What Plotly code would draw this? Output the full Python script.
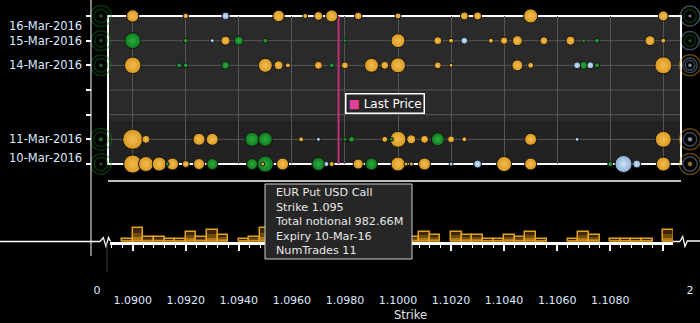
import plotly.graph_objects as go

W, H = 700, 323

# ---------------- data ----------------
EXPIRY_TICKS = ["2016-03-10", "2016-03-11", "2016-03-12", "2016-03-13",
                "2016-03-14", "2016-03-15", "2016-03-16"]
EXPIRY_LABELS = ["10-Mar-2016", "11-Mar-2016", "", "", "14-Mar-2016",
                 "15-Mar-2016", "16-Mar-2016"]

# (expiry, strike, total notional $M)
CALL_BUBBLES = [  # EUR Call USD Put (orange)
    ("2016-03-16", 1.0900, 580), ("2016-03-16", 1.0920, 116), ("2016-03-16", 1.0955, 508),
    ("2016-03-16", 1.0965, 96), ("2016-03-16", 1.0970, 290), ("2016-03-16", 1.0975, 553),
    ("2016-03-16", 1.0985, 216), ("2016-03-16", 1.1000, 138), ("2016-03-16", 1.1025, 246),
    ("2016-03-16", 1.1030, 246), ("2016-03-16", 1.1050, 752), ("2016-03-16", 1.1100, 384),
    ("2016-03-15", 1.0935, 311), ("2016-03-15", 1.1000, 752), ("2016-03-15", 1.1015, 246),
    ("2016-03-15", 1.1020, 96), ("2016-03-15", 1.1035, 96), ("2016-03-15", 1.1040, 216),
    ("2016-03-15", 1.1045, 384), ("2016-03-15", 1.1055, 246), ("2016-03-15", 1.1065, 311),
    ("2016-03-15", 1.1095, 384), ("2016-03-15", 1.1100, 96),
    ("2016-03-14", 1.0900, 1045), ("2016-03-14", 1.0950, 752), ("2016-03-14", 1.0955, 311),
    ("2016-03-14", 1.09585, 96), ("2016-03-14", 1.0970, 246), ("2016-03-14", 1.0980, 188),
    ("2016-03-14", 1.0990, 752), ("2016-03-14", 1.0995, 246), ("2016-03-14", 1.1000, 864),
    ("2016-03-14", 1.1015, 188), ("2016-03-14", 1.1020, 61), ("2016-03-14", 1.1045, 464),
    ("2016-03-14", 1.1050, 138), ("2016-03-14", 1.1100, 1109),
    ("2016-03-11", 1.0900, 1535), ("2016-03-11", 1.0905, 246), ("2016-03-11", 1.0925, 553),
    ("2016-03-11", 1.0930, 553), ("2016-03-11", 1.09635, 96), ("2016-03-11", 1.0995, 138),
    ("2016-03-11", 1.1000, 983), ("2016-03-11", 1.1005, 311), ("2016-03-11", 1.1010, 246),
    ("2016-03-11", 1.1020, 188), ("2016-03-11", 1.1025, 96), ("2016-03-11", 1.1050, 553),
    ("2016-03-11", 1.1100, 983),
    ("2016-03-10", 1.0900, 1244), ("2016-03-10", 1.0905, 864), ("2016-03-10", 1.0910, 752),
    ("2016-03-10", 1.0915, 553), ("2016-03-10", 1.0920, 188), ("2016-03-10", 1.0925, 464),
    ("2016-03-10", 1.0949, 35), ("2016-03-10", 1.09565, 553), ("2016-03-10", 1.0975, 96),
    ("2016-03-10", 1.0985, 384), ("2016-03-10", 1.1000, 752), ("2016-03-10", 1.1003, 35),
    ("2016-03-10", 1.1005, 35), ("2016-03-10", 1.1010, 553), ("2016-03-10", 1.1040, 864),
    ("2016-03-10", 1.1050, 553), ("2016-03-10", 1.1100, 752),
]
PUT_BUBBLES = [  # EUR Put USD Call (green)
    ("2016-03-15", 1.0900, 983), ("2016-03-15", 1.0920, 96), ("2016-03-15", 1.0940, 311),
    ("2016-03-15", 1.0950, 96), ("2016-03-15", 1.0980, 47), ("2016-03-15", 1.1070, 24),
    ("2016-03-15", 1.1075, 96),
    ("2016-03-14", 1.09175, 96), ("2016-03-14", 1.0920, 96), ("2016-03-14", 1.0935, 246),
    ("2016-03-14", 1.0975, 96), ("2016-03-14", 1.1070, 246), ("2016-03-14", 1.1075, 96),
    ("2016-03-11", 1.0945, 752), ("2016-03-11", 1.0950, 752), ("2016-03-11", 1.0980, 35),
    ("2016-03-11", 1.09825, 138), ("2016-03-11", 1.09975, 35), ("2016-03-11", 1.1015, 649),
    ("2016-03-10", 1.0913, 35), ("2016-03-10", 1.0930, 464), ("2016-03-10", 1.0945, 464),
    ("2016-03-10", 1.0950, 982.66), ("2016-03-10", 1.0970, 649), ("2016-03-10", 1.0990, 553),
    ("2016-03-10", 1.1080, 96),
]
OTHER_BUBBLES = [  # other structures (light blue)
    ("2016-03-16", 1.0935, 216),
    ("2016-03-15", 1.0930, 61), ("2016-03-15", 1.1025, 188),
    ("2016-03-14", 1.10675, 188), ("2016-03-14", 1.10725, 188),
    ("2016-03-11", 1.0970, 35), ("2016-03-11", 1.10675, 35),
    ("2016-03-10", 1.0973, 96), ("2016-03-10", 1.1020, 61), ("2016-03-10", 1.1030, 246),
    ("2016-03-10", 1.1085, 1109), ("2016-03-10", 1.1090, 246),
]
# strikes outside the displayed range, collapsed on the broken axis ends (0 and 2)
OUTSIDE_RINGS = [  # (expiry, strike, notional, kind)
    ("2016-03-16", 0, 1700, "put"), ("2016-03-15", 0, 1500, "put"), ("2016-03-14", 0, 1600, "put"),
    ("2016-03-11", 0, 1800, "put"), ("2016-03-10", 0, 1600, "put"),
    ("2016-03-16", 0, 700, "put"), ("2016-03-15", 0, 600, "put"), ("2016-03-14", 0, 700, "put"),
    ("2016-03-11", 0, 800, "put"), ("2016-03-10", 0, 700, "put"),
    ("2016-03-16", 2, 1500, "other"), ("2016-03-16", 2, 600, "put"),
    ("2016-03-15", 2, 1300, "other"), ("2016-03-15", 2, 500, "put"),
    ("2016-03-14", 2, 1700, "call"), ("2016-03-14", 2, 800, "other"), ("2016-03-14", 2, 350, "other"),
    ("2016-03-11", 2, 1700, "call"), ("2016-03-11", 2, 700, "other"),
    ("2016-03-10", 2, 1700, "call"), ("2016-03-10", 2, 800, "other"),
]
OUTSIDE_DOTS = [
    ("2016-03-16", 0, 50, "put"), ("2016-03-15", 0, 50, "put"), ("2016-03-14", 0, 60, "put"),
    ("2016-03-11", 0, 80, "put"), ("2016-03-10", 0, 40, "put"),
    ("2016-03-16", 2, 40, "other"), ("2016-03-15", 2, 40, "put"), ("2016-03-14", 2, 60, "other"),
    ("2016-03-11", 2, 90, "other"), ("2016-03-10", 2, 90, "call"),
]

# histogram of notional by strike bucket (bucket left edge, $bn)
HIST_BIN_LEFT = [1.0896, 1.0900, 1.0904, 1.0908, 1.0912, 1.0916, 1.0920, 1.0924, 1.0928,
                 1.0932, 1.0940, 1.0944, 1.0948, 1.0952, 1.0956, 1.0960, 1.0964, 1.0968,
                 1.0972, 1.0976, 1.0980, 1.0984, 1.0988, 1.0992, 1.0996, 1.1000, 1.1004,
                 1.1008, 1.1012, 1.1020, 1.1024, 1.1028, 1.1032, 1.1036, 1.1040, 1.1044,
                 1.1048, 1.1052, 1.1064, 1.1068, 1.1072, 1.1080, 1.1084, 1.1088, 1.1092,
                 1.1100]
HIST_NOTIONAL_BN = [0.30, 1.40, 0.45, 0.45, 0.30, 0.30, 1.00, 0.45, 1.20,
                    0.70, 0.30, 0.50, 1.40, 0.70, 0.50, 0.30, 0.30, 1.00,
                    0.50, 0.30, 0.45, 0.50, 0.70, 0.30, 1.20, 0.50, 0.50,
                    1.00, 0.70, 1.00, 0.70, 0.70, 0.30, 0.30, 0.70, 0.50,
                    1.00, 0.30, 0.30, 1.00, 0.70, 0.30, 0.30, 0.30, 0.30,
                    1.20]
HIST_BIN_WIDTH = 0.0004
LAST_PRICE = 1.09776

TOOLTIP_LINES = ["EUR Put USD Call", "Strike 1.095", "Total notional 982.66M",
                 "Expiry 10-Mar-16", "NumTrades 11"]

# ---------------- styles ----------------
FONT = "DejaVu Sans"
LABEL_COL = "#dde8fb"
COLORS = {"call": ("#d9981f", "#f2bc52"),
          "put": ("#0d7a1b", "#2eab40"),
          "other": ("#8ab0d6", "#d0e3f5")}
SIZEREF = 2 * 982.66 / 16 ** 2  # 982.66M -> 16px bubble
GRID = "#575757"


def px(x):
    return x / W


def py(y):
    return 1 - y / H


X2_RANGE = [1.089069, 1.110667]
X3_RANGE = [1.089144, 1.110366]
STANDOFF = 40

fig = go.Figure()

# ---- histogram (stepped gradient fill + outline) ----
for frac, col in [(1.0, "#3a2806"), (0.62, "#6f4b0e"), (0.32, "#b07816")]:
    fig.add_trace(go.Bar(
        x=HIST_BIN_LEFT, y=[v * frac for v in HIST_NOTIONAL_BN], width=HIST_BIN_WIDTH,
        offset=0, xaxis="x3", yaxis="y", marker=dict(color=col, line=dict(width=0)),
        hoverinfo="skip", showlegend=False))
fig.add_trace(go.Bar(
    x=HIST_BIN_LEFT, y=HIST_NOTIONAL_BN, width=HIST_BIN_WIDTH, offset=0,
    xaxis="x3", yaxis="y",
    marker=dict(color="rgba(0,0,0,0)", line=dict(color="#e3a21f", width=1.5)),
    hoverinfo="skip", showlegend=False))

# ---- last price line ----
fig.add_trace(go.Scatter(
    x=[LAST_PRICE, LAST_PRICE], y=[EXPIRY_TICKS[0], EXPIRY_TICKS[-1]],
    xaxis="x2", yaxis="y2", mode="lines", line=dict(color="#c2307a", width=2),
    hoverinfo="skip", showlegend=False))

# ---- bubbles ----
allb = ([(e, s, n, "call") for e, s, n in CALL_BUBBLES]
        + [(e, s, n, "put") for e, s, n in PUT_BUBBLES]
        + [(e, s, n, "other") for e, s, n in OTHER_BUBBLES])
allb.sort(key=lambda t: -t[2])
fig.add_trace(go.Scatter(
    x=[b[1] for b in allb], y=[b[0] for b in allb], xaxis="x2", yaxis="y2",
    mode="markers", cliponaxis=False,
    marker=dict(size=[b[2] for b in allb], sizemode="area", sizeref=SIZEREF, sizemin=2,
                color=[COLORS[b[3]][0] for b in allb],
                gradient=dict(type="radial", color=[COLORS[b[3]][1] for b in allb]),
                line=dict(color="#151515", width=1), opacity=1),
    hoverinfo="skip", showlegend=False))

# ---- outside-range columns ----
for pts, xa in [([r for r in OUTSIDE_RINGS if r[1] == 0], "x"), ([r for r in OUTSIDE_RINGS if r[1] == 2], "x4")]:
    fig.add_trace(go.Scatter(
        x=[r[1] for r in pts], y=[r[0] for r in pts], xaxis=xa, yaxis="y3",
        mode="markers", cliponaxis=False, opacity=0.6,
        marker=dict(symbol="circle-open", size=[r[2] for r in pts], sizemode="area",
                    sizeref=SIZEREF, color=[COLORS[r[3]][0] for r in pts], line=dict(width=1.5)),
        hoverinfo="skip", showlegend=False))
for pts, xa in [([r for r in OUTSIDE_DOTS if r[1] == 0], "x"), ([r for r in OUTSIDE_DOTS if r[1] == 2], "x4")]:
    fig.add_trace(go.Scatter(
        x=[r[1] for r in pts], y=[r[0] for r in pts], xaxis=xa, yaxis="y3",
        mode="markers", cliponaxis=False, opacity=0.9,
        marker=dict(size=[r[2] for r in pts], sizemode="area", sizeref=SIZEREF,
                    color=[COLORS[r[3]][1] for r in pts], line=dict(color="#111", width=0.5)),
        hoverinfo="skip", showlegend=False))

# ---------------- shapes ----------------
band_split = "2016-03-11 17:50"
shapes = [
    dict(type="rect", xref="x2 domain", x0=0, x1=1, yref="y2", y0=band_split, y1=EXPIRY_TICKS[-1],
         fillcolor="#2a2a2a", line=dict(width=0), layer="below"),
    dict(type="rect", xref="x2 domain", x0=0, x1=1, yref="y2", y0=EXPIRY_TICKS[0], y1=band_split,
         fillcolor="#222222", line=dict(width=0), layer="below"),
]
# horizontal grid lines at interior expiry ticks
for d in EXPIRY_TICKS[1:-1]:
    shapes.append(dict(type="line", xref="x2 domain", x0=0, x1=1, yref="y2", y0=d, y1=d,
                       line=dict(color=GRID, width=1), layer="below"))
shapes += [
    dict(type="rect", xref="x2 domain", x0=0, x1=1, yref="y2 domain", y0=0, y1=1,
         line=dict(color="white", width=2), layer="below"),
    # y axis line
    dict(type="line", xref="paper", yref="paper", x0=px(91), x1=px(91), y0=py(256), y1=1,
         line=dict(color="white", width=1)),
    # navigator line
    dict(type="line", xref="x2 domain", yref="paper", x0=0, x1=1, y0=py(181), y1=py(181),
         line=dict(color="white", width=1.5)),
    # broken-axis baseline pieces
    dict(type="line", xref="paper", yref="paper", x0=0, x1=px(100), y0=py(241.5), y1=py(241.5),
         line=dict(color="white", width=1.5)),
    dict(type="path", xref="paper", yref="paper",
         path="M {:.5f},{:.5f} L {:.5f},{:.5f} L {:.5f},{:.5f} L {:.5f},{:.5f} L {:.5f},{:.5f}".format(
             px(100), py(241.5), px(103.3), py(237.5), px(106), py(246.5), px(108.5), py(237.5), px(110.5), py(241.5)),
         line=dict(color="white", width=1.3)),
    dict(type="line", xref="paper", yref="paper", x0=px(673), x1=px(680), y0=py(241.5), y1=py(241.5),
         line=dict(color="white", width=1.5)),
    dict(type="path", xref="paper", yref="paper",
         path="M {:.5f},{:.5f} L {:.5f},{:.5f} L {:.5f},{:.5f} L {:.5f},{:.5f} L {:.5f},{:.5f}".format(
             px(680), py(241.5), px(682.7), py(236.5), px(685), py(246.5), px(687.3), py(241), px(700), py(241)),
         line=dict(color="white", width=1.3)),
    dict(type="line", xref="paper", yref="paper", x0=px(107), x1=px(107), y0=py(243), y1=py(272),
         line=dict(color="#3c3c3c", width=1)),
    # tooltip box
    dict(type="rect", xref="paper", yref="paper", x0=px(265), x1=px(412), y0=py(259), y1=py(184),
         fillcolor="#262626", line=dict(color="#d0d0d0", width=1), layer="above"),
]

# ---------------- annotations ----------------
annotations = []
shifts = {"2016-03-16": -10, "2016-03-10": 6}
for d, lab in zip(EXPIRY_TICKS, EXPIRY_LABELS):
    if lab:
        annotations.append(dict(text=lab, xref="paper", x=px(84), xanchor="right",
                                yref="y2", y=d, yanchor="middle", yshift=shifts.get(d, 0),
                                showarrow=False, font=dict(family=FONT, size=11.5, color=LABEL_COL)))
annotations.append(dict(text="Strike", xref="paper", yref="paper", x=px(410), y=py(315),
                        xanchor="center", yanchor="middle", showarrow=False,
                        font=dict(family=FONT, size=11.5, color="#e6e6e6")))
annotations.append(dict(text="<span style='color:#e0409a'>■</span> Last Price",
                        xref="paper", yref="paper", x=px(384.5), y=py(104),
                        xanchor="center", yanchor="middle", showarrow=False,
                        bgcolor="#262626", bordercolor="white", borderwidth=1.5, borderpad=2,
                        font=dict(family=FONT, size=12, color="white")))
annotations.append(dict(text="<br>".join(TOOLTIP_LINES), xref="paper", yref="paper",
                        x=px(273), y=py(221.5), xanchor="left", yanchor="middle", align="left",
                        showarrow=False, font=dict(family=FONT, size=11.2, color="#e8e8e8")))

fig.update_layout(
    width=W, height=H, margin=dict(l=0, r=0, t=0, b=0),
    paper_bgcolor="black", plot_bgcolor="black",
    showlegend=False, hovermode=False, barmode="overlay", bargap=0,
    font=dict(family=FONT, color=LABEL_COL, size=11),
    xaxis=dict(domain=[px(91), px(108)], range=[-1.4, 1], anchor="y", showgrid=False,
               zeroline=False, showline=False, tickvals=[0], ticktext=["0"], ticks="",
               ticklabelstandoff=STANDOFF, ticklabelshift=-4,
               tickfont=dict(size=11, color=LABEL_COL)),
    xaxis2=dict(domain=[px(108), px(681)], range=X2_RANGE, anchor="y2", showgrid=True,
                gridcolor=GRID, gridwidth=1, tick0=1.09, dtick=0.002, showticklabels=False,
                ticks="", zeroline=False, showline=False),
    xaxis3=dict(domain=[px(110), px(673)], range=X3_RANGE, anchor="y", showgrid=False,
                zeroline=False, showline=True, linecolor="white", linewidth=3,
                ticks="outside", ticklen=6, tickwidth=1.5, tickcolor="white",
                tick0=1.09, dtick=0.002, tickformat=".4f", labelalias={"1.1100": " "},
                ticklabelstandoff=STANDOFF, tickfont=dict(size=11, color=LABEL_COL),
                minor=dict(ticks="outside", tick0=1.09, dtick=0.0004, ticklen=3,
                           tickcolor="white", tickwidth=1, showgrid=False)),
    xaxis4=dict(domain=[px(681), px(699)], range=[1, 3], anchor="y", showgrid=False,
                zeroline=False, showline=False, tickvals=[2], ticktext=["2"], ticks="",
                ticklabelstandoff=STANDOFF, tickfont=dict(size=11, color=LABEL_COL)),
    yaxis=dict(domain=[py(241.5), py(185)], range=[0, 5.65], anchor="x3", visible=False),
    yaxis2=dict(domain=[py(164), py(16)], type="date", range=[EXPIRY_TICKS[0], EXPIRY_TICKS[-1]],
                anchor="free", position=px(91), side="left", tickvals=EXPIRY_TICKS,
                showticklabels=False, ticks="outside", ticklen=5, tickwidth=2, tickcolor="white",
                showgrid=False, zeroline=False, showline=False),
    yaxis3=dict(domain=[py(164), py(16)], type="date", range=[EXPIRY_TICKS[0], EXPIRY_TICKS[-1]],
                anchor="x", visible=False),
    shapes=shapes, annotations=annotations,
)

fig.write_html("out.html")
